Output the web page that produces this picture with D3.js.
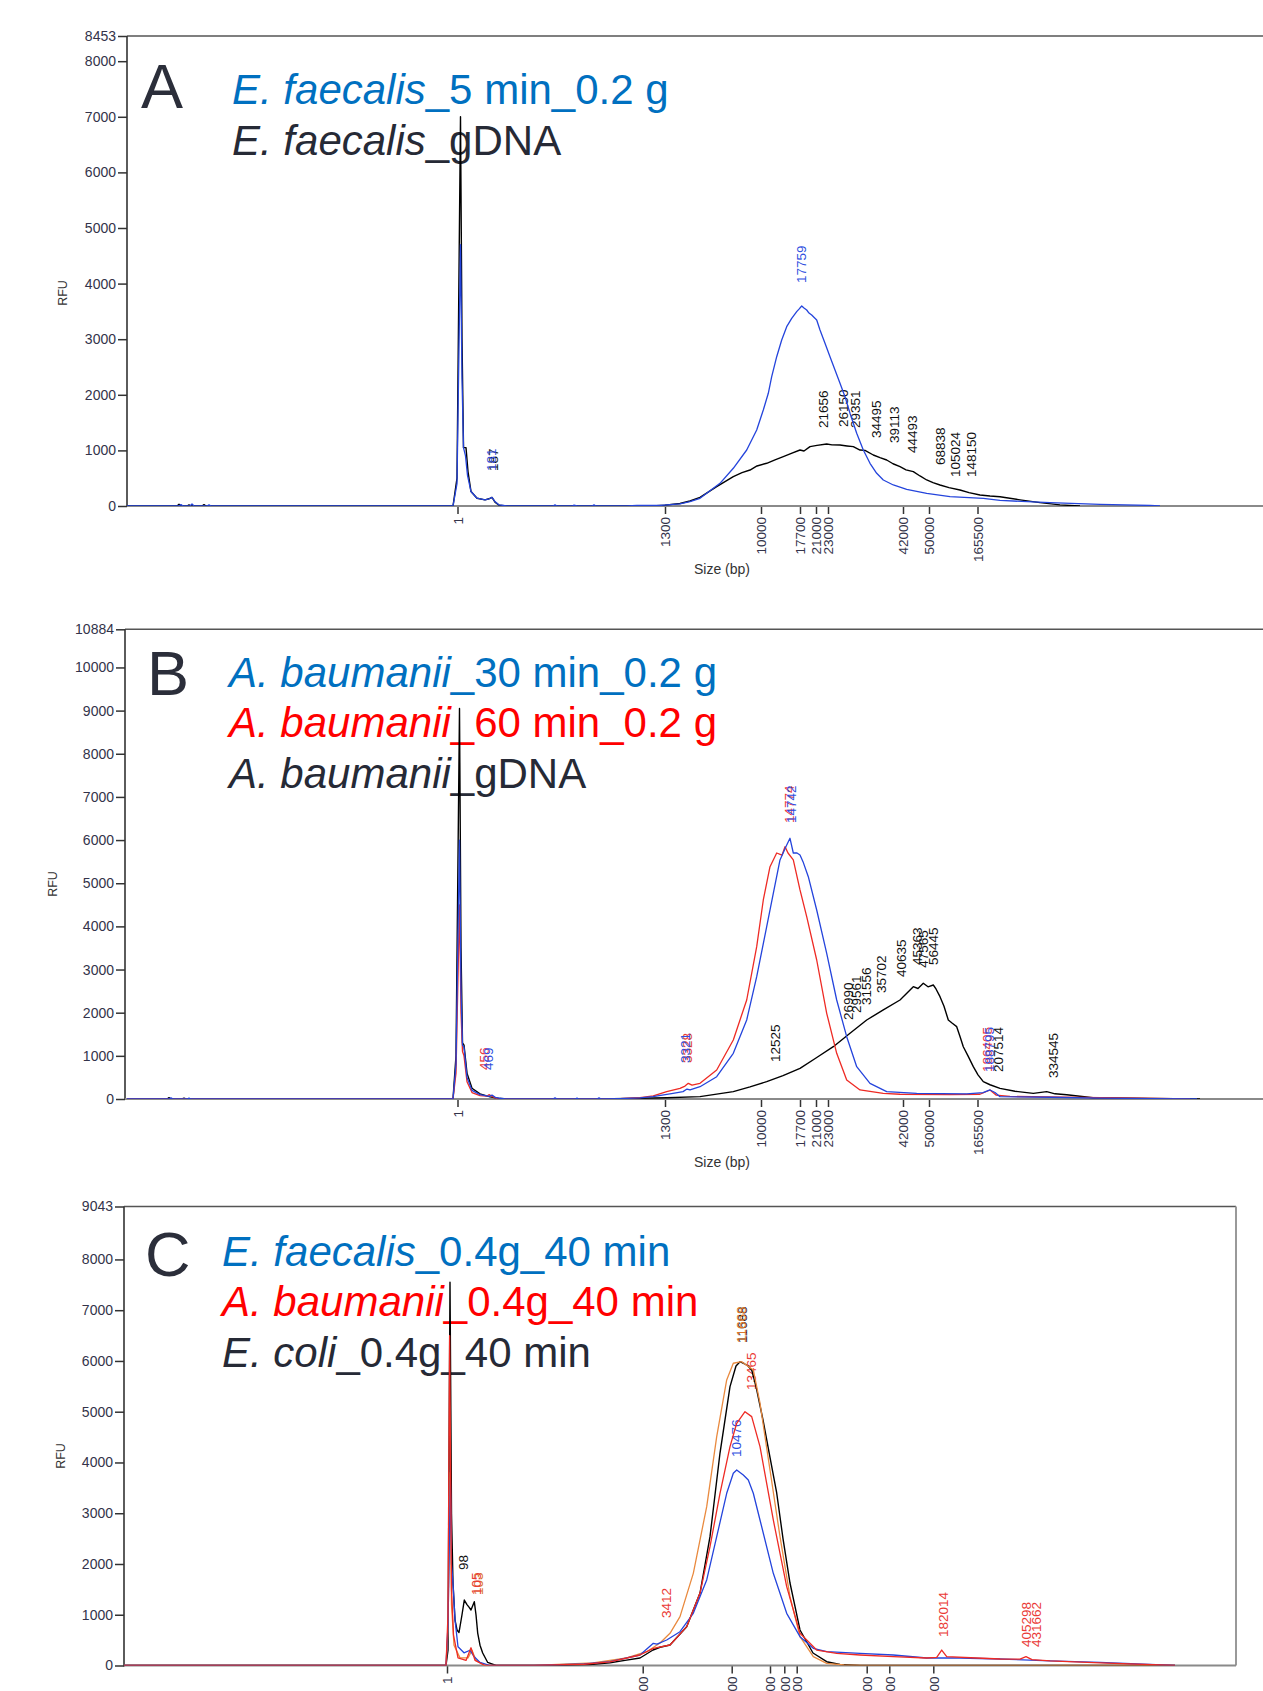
<!DOCTYPE html>
<html><head><meta charset="utf-8">
<script src="https://cdn.jsdelivr.net/npm/d3@7/dist/d3.min.js"></script>
<style>body{margin:0;background:#fff}svg{display:block}</style>
</head><body><svg id="c" width="1263" height="1691"></svg>
<script>
// ---------- DATA (x = migration time units, y = RFU) ----------
const ladderBp = [1,1300,10000,17700,21000,23000,42000,50000,165500];
const ladderTimeAB = [33.05,53.8,63.4,67.3,68.9,70.1,77.6,80.2,85.05];
const ladderTimeC  = [32.3,51.87,60.77,64.6,66.03,67.27,74.27,76.53,80.93];
const yTicksA = [0,1000,2000,3000,4000,5000,6000,7000,8000,8453];
const yTicksB = [0,1000,2000,3000,4000,5000,6000,7000,8000,9000,10000,10884];
const yTicksC = [0,1000,2000,3000,4000,5000,6000,7000,8000,9043];

// Panel A
const aGDNA = [[0,0],[5.0,0],[5.2,30],[5.4,0],[6.0,0],[6.2,20],[6.4,0],[7.5,0],[7.7,25],[7.9,0],
 [32.6,0],[33.0,500],[33.35,7000],[33.5,3000],[33.65,1050],[33.9,1050],[34.1,620],[34.4,260],[35.0,140],[35.8,110],[36.2,130],[36.5,155],[36.8,70],[37.2,15],[38.0,0],
 [52.5,0],[53.8,15],[55.3,45],[56.3,90],[57.3,156],[58.97,347],[60.63,527],[61.5,600],[62.3,647],[63.0,720],[63.97,768],[64.8,830],[65.63,887],[66.5,950],[67.3,1007],[67.7,990],[68.3,1067],[69.0,1090],[69.97,1115],[70.5,1100],[71.3,1097],[72.0,1080],[72.63,1067],[73.3,1007],[73.8,1000],[74.63,917],[75.3,870],[75.97,827],[76.6,760],[77.3,707],[77.9,650],[78.63,617],[79.3,540],[79.97,468],[80.6,420],[81.3,378],[82.2,330],[83.3,288],[84.2,240],[85.3,198],[86.3,180],[87.3,167],[89.3,110],[91.3,60],[93.3,20],[95.3,0]];
const a5min = [[0,0],[5.2,0],[5.4,25],[5.6,0],[6.3,0],[6.5,35],[6.7,0],[8.0,0],[8.2,20],[8.4,0],
 [32.6,0],[33.0,400],[33.35,4700],[33.5,2300],[33.65,1050],[33.85,900],[34.05,550],[34.4,260],[35.0,140],[35.8,110],[36.2,130],[36.5,155],[36.8,80],[37.2,20],[38.0,0],
 [42.6,0],[42.8,20],[43.0,0],[44.5,0],[44.7,15],[45.0,0],[46.5,0],[46.7,20],[46.9,0],[50,0],[51,10],
 [53.3,10],[55.3,40],[56.3,80],[57.3,138],[59.3,408],[60.63,678],[61.97,1007],[62.97,1367],[63.63,1727],[64.13,2027],[64.47,2326],[64.97,2685],[65.47,2986],[65.97,3225],[66.47,3375],[66.97,3495],[67.2,3540],[67.47,3597],[67.7,3560],[67.97,3525],[68.2,3470],[68.47,3435],[68.97,3345],[69.3,3165],[69.8,2926],[70.3,2685],[70.8,2446],[71.3,2206],[71.8,1966],[72.3,1667],[72.97,1307],[73.63,1007],[74.3,768],[74.97,588],[75.63,468],[76.63,378],[77.97,300],[79.97,228],[82.3,167],[85.63,138],[87.3,100],[92.3,60],[97.3,30],[102.3,10],[103.3,0]];
const aLabelsGDNA = [[36.6,558,'187'],[69.63,1331,'21656'],[71.63,1349,'26150'],[72.8,1331,'29351'],[74.97,1151,'34495'],[76.7,1061,'39113'],[78.57,881,'44493'],[81.3,665,'68838'],[82.8,450,'105024'],[84.47,450,'148150']];
const aLabels5min = [[36.4,558,'181'],[67.47,3939,'17759']];

// Panel B
const bGDNA = [[0,0],[4.0,0],[4.2,30],[4.4,0],[5.5,0],[5.7,20],[5.9,0],
 [32.6,0],[32.9,1000],[33.25,9050],[33.4,3500],[33.55,1300],[33.7,1250],[34.0,600],[34.5,250],[35.3,120],[36.3,50],[37.3,10],[38.3,0],
 [47.3,0],[53.97,30],[57.3,54],[60.63,170],[62.3,280],[63.97,402],[65.6,540],[67.3,711],[68.9,950],[70.63,1212],[72.3,1522],[73.97,1831],[75.63,2063],[77.3,2294],[78.63,2603],[79.1,2560],[79.63,2681],[80.1,2600],[80.63,2642],[80.9,2550],[81.3,2371],[81.7,2150],[82.13,1831],[82.5,1760],[82.97,1676],[83.3,1450],[83.63,1212],[84.1,1000],[84.63,749],[85.1,560],[85.63,402],[86.3,330],[87.3,247],[88.8,180],[90.63,131],[91.97,170],[92.8,120],[93.97,100],[96.6,30],[102.3,10],[107.3,0]];
const b60min = [[0,0],[32.6,0],[32.9,600],[33.25,4500],[33.4,2000],[33.55,1100],[33.7,1000],[34.0,400],[34.5,150],[35.3,80],[36.0,70],[36.2,100],[36.5,60],[37.0,10],[38.0,0],
 [49.3,10],[51.3,30],[52.63,70],[53.97,170],[55.3,247],[55.8,300],[56.13,363],[56.5,320],[57.3,363],[58.97,672],[60.63,1367],[61.97,2294],[62.97,3529],[63.63,4612],[64.3,5383],[64.97,5700],[65.5,5650],[65.8,5848],[66.1,5700],[66.63,5539],[67.3,4844],[67.97,4226],[68.97,3221],[69.97,1986],[70.97,1059],[71.97,440],[73.3,209],[75.63,131],[77.3,110],[82.3,100],[85.3,110],[86.3,209],[86.9,90],[88.3,60],[97.3,30],[106.3,0]];
const b30min = [[0,0],[4.2,0],[4.4,25],[4.6,0],[6.0,0],[6.2,20],[6.4,0],
 [32.6,0],[32.9,800],[33.25,6000],[33.4,2500],[33.55,1250],[33.7,1200],[34.0,500],[34.5,200],[35.3,100],[36.2,60],[36.5,90],[36.9,30],[37.8,0],
 [42.6,0],[42.8,25],[43.0,0],[44.8,0],[45.0,20],[45.2,0],[47.0,0],[47.2,25],[47.4,0],[49.3,10],[51.3,25],[52.6,54],[54.6,131],[55.6,170],[56.0,230],[56.3,209],[57.3,285],[58.97,517],[60.63,1059],[61.97,1831],[62.97,2834],[63.97,3993],[64.63,4767],[65.3,5539],[65.9,5850],[66.3,6041],[66.63,5700],[67.0,5700],[67.3,5655],[67.6,5500],[68.13,5152],[68.97,4380],[69.97,3376],[70.97,2294],[71.97,1444],[72.97,749],[74.3,363],[75.97,170],[78.97,131],[83.97,120],[85.6,150],[86.3,209],[86.8,150],[87.3,54],[92.3,40],[97.3,20],[102.3,10],[107.0,0]];
const bLabelsGDNA = [[64.8,765,'12525'],[72.13,1738,'26990'],[72.97,1900,'29561'],[73.9,2086,'31556'],[75.47,2364,'35702'],[77.47,2735,'40635'],[79.05,3013,'45363'],[79.6,2950,'47565'],[80.63,3013,'56445'],[87.13,533,'207514'],[92.63,394,'334545']];
const bLabels60min = [[35.7,579,'456'],[56.05,742,'3328'],[66.2,6303,'14774'],[86.0,533,'186405']];
const bLabels30min = [[36.1,579,'469'],[55.85,742,'3321'],[66.4,6303,'14742'],[86.2,533,'188795']];

// Panel C
const cEcoli = [[0,0],[32.2,0],[32.4,300],[32.6,7550],[32.75,3000],[32.9,1625],[33.1,900],[33.3,700],[33.5,650],[33.8,1000],[34.03,1290],[34.3,1200],[34.5,1150],[34.7,1093],[35.03,1257],[35.2,1000],[35.37,640],[35.6,400],[35.87,246],[36.37,60],[37.2,0],
 [43.6,0],[46.6,20],[48.6,55],[50.1,100],[51.6,148],[52.9,305],[53.6,360],[54.6,404],[56.27,765],[57.6,1428],[58.6,2538],[59.6,4186],[60.6,5494],[61.2,5900],[61.6,5986],[62.0,5950],[62.4,5900],[62.77,5822],[63.2,5500],[63.9,4837],[64.6,4100],[65.27,3399],[65.9,2500],[66.6,1625],[67.6,700],[68.9,246],[70.27,75],[71.6,20],[73.6,0],[105.1,0]];
const cExtra = [[0,0],[32.2,0],[32.4,700],[32.62,3800],[32.75,1200],[33.0,400],[33.6,150],[34.4,150],[34.8,300],[35.2,100],[36.1,0],
 [41.0,0],[46.9,49],[50.27,148],[52.27,272],[53.6,443],[54.6,634],[55.6,962],[56.93,1816],[58.27,3130],[59.27,4509],[60.27,5626],[60.93,5955],[61.77,5986],[62.93,5823],[63.6,5167],[64.6,3852],[65.6,2538],[66.6,1356],[67.6,568],[68.93,174],[70.27,43],[72.0,10],[74.0,0],[105.1,0]];
const cAbaum = [[0,0],[32.2,0],[32.4,1000],[32.56,6500],[32.75,1500],[32.95,600],[33.4,150],[34.2,100],[34.7,350],[35.1,100],[36.1,0],
 [41.0,0],[46.0,25],[48.6,70],[51.6,207],[52.93,338],[54.6,404],[56.27,765],[57.6,1428],[58.6,2341],[59.6,3393],[60.6,4312],[61.27,4772],[62.1,5001],[62.77,4903],[63.6,4312],[64.93,2867],[66.27,1553],[67.6,634],[69.27,305],[71.27,240],[73.6,207],[76.93,174],[80.27,148],[81.27,160],[81.77,305],[82.27,174],[85.27,148],[87.6,128],[89.6,125],[90.2,174],[90.8,115],[92.6,90],[97.6,50],[105.1,0]];
const cEfaec = [[0,0],[32.2,0],[32.4,800],[32.64,3650],[32.75,2000],[32.9,1625],[33.1,900],[33.4,370],[34.0,250],[34.6,300],[35.0,180],[35.6,60],[36.6,0],
 [41.0,0],[46.0,30],[48.6,75],[51.6,207],[52.93,437],[53.3,420],[54.27,502],[55.6,666],[56.93,1028],[58.27,1685],[59.27,2538],[60.27,3393],[60.93,3787],[61.27,3852],[61.93,3754],[62.43,3655],[62.93,3393],[63.6,2867],[64.93,1816],[66.27,1028],[67.6,568],[68.93,338],[70.27,272],[73.6,240],[76.93,207],[80.27,148],[83.6,148],[87.6,128],[92.6,90],[97.6,60],[105.1,0]];
const cLabelsEcoli = [[33.9,1803,'98'],[61.85,6276,'11688']];
const cLabelsExtra = [[35.45,1310,'103'],[61.7,6276,'11668']];
const cLabelsAbaum = [[35.2,1310,'105'],[54.27,857,'3412'],[62.7,5350,'13465'],[81.93,483,'182014'],[90.2,286,'405298'],[91.2,286,'431662']];
const cLabelsEfaec = [[61.27,4030,'10476']];

// ---------- STYLE / LAYOUT ----------
const COL = {black:'#000000', blue:'#2444dc', red:'#ee2a24', orange:'#e98a3f'};
const LBL = {black:'#111111', blue:'#2f4fe0', red:'#ea3a36', orange:'#d9782d'};
const LEG = {blue:'#0070c0', red:'#ff0000', black:'#262a36'};
const FONT = '"Liberation Sans", Arial, sans-serif';

const panels = [
 {letter:'A', letterX:141, letterY:108, frameLeft:127, right:1300, xDomain:[0,117.3], xRange:[127,1300], yTop:36, yBase:506, yMax:8453, yTicks:yTicksA, ladder:ladderTimeAB, rightBorder:false,
  rfu:[67,293], size:[722,574], legendX:232, legendY:[104,155],
  legend:[{sp:'E. faecalis', rest:'_5 min_0.2 g', c:'blue'},{sp:'E. faecalis', rest:'_gDNA', c:'black'}],
  series:[{d:aGDNA,c:'black',l:aLabelsGDNA,w:1.4},{d:a5min,c:'blue',l:aLabels5min,w:1.3}]},
 {letter:'B', letterX:147, letterY:695, frameLeft:125, right:1300, xDomain:[0,117.3], xRange:[127,1300], yTop:629.3, yBase:1099, yMax:10884, yTicks:yTicksB, ladder:ladderTimeAB, rightBorder:false,
  rfu:[57,884], size:[722,1167], legendX:229, legendY:[687,737,788],
  legend:[{sp:'A. baumanii', rest:'_30 min_0.2 g', c:'blue'},{sp:'A. baumanii', rest:'_60 min_0.2 g', c:'red'},{sp:'A. baumanii', rest:'_gDNA', c:'black'}],
  series:[{d:bGDNA,c:'black',l:bLabelsGDNA,w:1.4},{d:b60min,c:'red',l:bLabels60min,w:1.3},{d:b30min,c:'blue',l:bLabels30min,w:1.3}]},
 {letter:'C', letterX:145, letterY:1276, frameLeft:124, right:1236, xDomain:[0,111.2], xRange:[124,1236], yTop:1206.5, yBase:1665.5, yMax:9043, yTicks:yTicksC, ladder:ladderTimeC, rightBorder:true,
  rfu:[65,1456], size:null, legendX:222, legendY:[1266,1316,1367],
  legend:[{sp:'E. faecalis', rest:'_0.4g_40 min', c:'blue'},{sp:'A. baumanii', rest:'_0.4g_40 min', c:'red'},{sp:'E. coli', rest:'_0.4g_40 min', c:'black'}],
  series:[{d:cEcoli,c:'black',l:cLabelsEcoli,w:1.4},{d:cExtra,c:'orange',l:cLabelsExtra,w:1.3},{d:cEfaec,c:'blue',l:cLabelsEfaec,w:1.3},{d:cAbaum,c:'red',l:cLabelsAbaum,w:1.3}]}
];

const svg = d3.select('#c');
svg.append('rect').attr('width',1263).attr('height',1691).attr('fill','#fff');

panels.forEach((p,pi)=>{
  const g = svg.append('g');
  const x = d3.scaleLinear().domain(p.xDomain).range(p.xRange);
  const y = d3.scaleLinear().domain([0,p.yMax]).range([p.yBase,p.yTop]);

  // legend (under curves)
  p.legend.forEach((l,i)=>{
    const t = g.append('text').attr('x',p.legendX).attr('y',p.legendY[i])
      .attr('fill',LEG[l.c]).style('font-family',FONT).style('font-size','42px');
    t.append('tspan').style('font-style','italic').text(l.sp);
    t.append('tspan').text(l.rest);
  });
  g.append('text').attr('x',p.letterX).attr('y',p.letterY).text(p.letter)
    .attr('fill','#2b2e3a').style('font-family',FONT).style('font-size','63px');

  // frame
  g.append('line').attr('x1',p.frameLeft).attr('x2',p.right).attr('y1',p.yTop).attr('y2',p.yTop)
    .attr('stroke','#555').attr('stroke-width',1.4);
  if(p.rightBorder) g.append('line').attr('x1',p.right).attr('x2',p.right).attr('y1',p.yTop).attr('y2',p.yBase)
    .attr('stroke','#999').attr('stroke-width',2);

  // y axis
  const ya = d3.axisLeft(y).tickValues(p.yTicks).tickSize(9).tickPadding(2).tickFormat(d3.format('d'));
  const yg = g.append('g').attr('transform',`translate(${p.frameLeft},0)`).call(ya);
  yg.select('.domain').remove();
  yg.selectAll('line').attr('stroke','#333').attr('stroke-width',1.5);
  yg.selectAll('text').attr('fill','#33334a').style('font-family',FONT).style('font-size','14px');
  g.append('line').attr('x1',p.frameLeft).attr('x2',p.frameLeft).attr('y1',p.yTop).attr('y2',p.yBase+1)
    .attr('stroke','#333').attr('stroke-width',1.6);

  // x axis
  const xa = d3.axisBottom(x).tickValues(p.ladder).tickSize(8).tickFormat((d,i)=>ladderBp[i]);
  const xg = g.append('g').attr('transform',`translate(0,${p.yBase})`).call(xa);
  xg.select('.domain').remove();
  xg.selectAll('line').attr('stroke','#333').attr('stroke-width',1.5);
  xg.selectAll('text').attr('transform','rotate(-90)').attr('text-anchor','end')
    .attr('x',-11).attr('y',0).attr('dy','0.35em')
    .attr('fill','#33334a').style('font-family',FONT).style('font-size','13.5px');
  g.append('line').attr('x1',p.frameLeft).attr('x2',p.right).attr('y1',p.yBase).attr('y2',p.yBase)
    .attr('stroke','#8a8a8a').attr('stroke-width',2.2);

  // axis titles
  g.append('text').attr('transform',`translate(${p.rfu[0]},${p.rfu[1]}) rotate(-90)`).attr('text-anchor','middle')
    .text('RFU').attr('fill','#333').style('font-family',FONT).style('font-size','12.5px');
  if(p.size) g.append('text').attr('x',p.size[0]).attr('y',p.size[1]).attr('text-anchor','middle')
    .text('Size (bp)').attr('fill','#333').style('font-family',FONT).style('font-size','14px');

  // peak labels
  p.series.forEach(s=>{
    s.l.forEach(l=>{
      g.append('text').attr('transform',`translate(${x(l[0])},${y(l[1])-4}) rotate(-90)`)
        .attr('dy','0.35em').text(l[2]).attr('fill',LBL[s.c])
        .style('font-family',FONT).style('font-size','13.5px');
    });
  });

  // curves
  const cid = 'clip'+pi;
  svg.append('clipPath').attr('id',cid).append('rect')
    .attr('x',p.frameLeft).attr('y',p.yTop).attr('width',p.right-p.frameLeft).attr('height',p.yBase-p.yTop);
  const line = d3.line().x(d=>x(d[0])).y(d=>y(d[1]));
  const cg = g.append('g').attr('clip-path',`url(#${cid})`);
  p.series.forEach(s=>{
    cg.append('path').attr('d',line(s.d)).attr('fill','none')
      .attr('stroke',COL[s.c]).attr('stroke-width',s.w).attr('stroke-linejoin','round');
  });
});
</script></body></html>
